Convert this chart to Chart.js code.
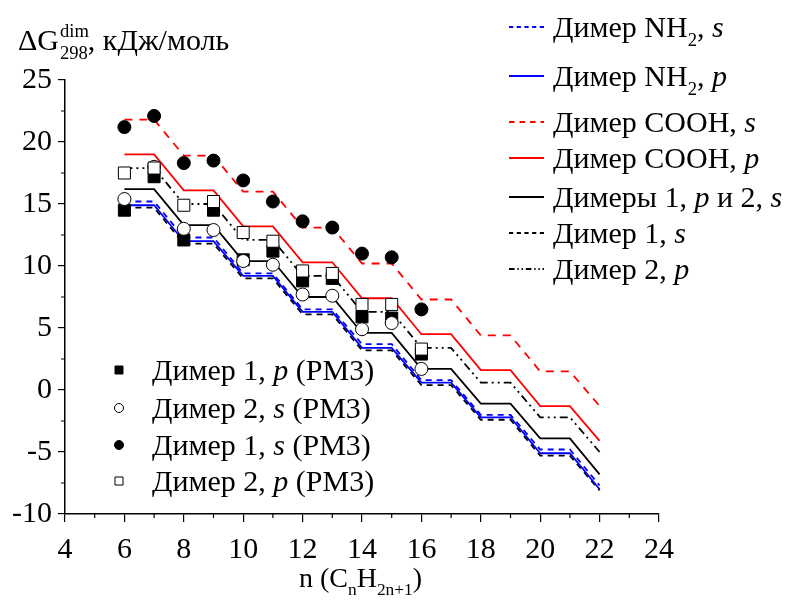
<!DOCTYPE html>
<html>
<head>
<meta charset="utf-8">
<script src="https://cdn.jsdelivr.net/npm/chart.js@4/dist/chart.umd.min.js"></script>
<style>
  html, body { margin: 0; padding: 0; background: #fff; }
  #wrap { width: 787px; height: 602px; }
</style>
</head>
<body>
<div id="wrap"><canvas id="chart" width="787" height="602"></canvas></div>
<script>
const SERIF = '"Liberation Serif", "Times New Roman", Times, serif';

// chain length n
const nLine = [6, 7, 8, 9, 10, 11, 12, 13, 14, 15, 16, 17, 18, 19, 20, 21, 22];
const nPM3 = [6, 7, 8, 9, 10, 11, 12, 13, 14, 15, 16];

// model curves, kJ/mol
const nh2S   = [15.2, 15.2, 12.3, 12.3, 9.4, 9.4, 6.5, 6.5, 3.7, 3.7, 0.8, 0.8, -2.0, -2.0, -4.8, -4.8, -7.7];
const nh2P   = [14.9, 14.9, 12.0, 12.0, 9.2, 9.2, 6.3, 6.3, 3.4, 3.4, 0.6, 0.6, -2.2, -2.2, -5.1, -5.1, -8.0];
const coohS  = [21.8, 21.8, 18.9, 18.9, 16.0, 16.0, 13.1, 13.1, 10.2, 10.2, 7.3, 7.3, 4.4, 4.4, 1.5, 1.5, -1.3];
const coohP  = [19.0, 19.0, 16.1, 16.1, 13.2, 13.2, 10.3, 10.3, 7.4, 7.4, 4.5, 4.5, 1.6, 1.6, -1.3, -1.3, -4.1];
const dim1p2s = [16.2, 16.2, 13.3, 13.3, 10.4, 10.4, 7.5, 7.5, 4.6, 4.6, 1.7, 1.7, -1.1, -1.1, -3.9, -3.9, -6.8];
const dim1S  = [14.7, 14.7, 11.8, 11.8, 9.0, 9.0, 6.1, 6.1, 3.2, 3.2, 0.4, 0.4, -2.4, -2.4, -5.3, -5.3, -8.1];
const dim2P  = [17.9, 17.9, 15.0, 15.0, 12.1, 12.1, 9.2, 9.2, 6.3, 6.3, 3.4, 3.4, 0.6, 0.6, -2.2, -2.2, -5.0];

// PM3 points
const pm3Dim1P = [14.5, 17.2, 12.1, 14.5, 10.5, 11.2, 8.8, 9.0, 5.9, 5.8, 2.9];
const pm3Dim2S = [15.4, 18.0, 13.0, 12.9, 10.4, 10.1, 7.7, 7.6, 4.9, 5.4, 1.7];
const pm3Dim1S = [21.2, 22.1, 18.3, 18.5, 16.9, 15.2, 13.6, 13.1, 11.0, 10.7, 6.5];
const pm3Dim2P = [17.5, 17.9, 14.9, 15.2, 12.7, 12.0, 9.6, 9.4, 6.9, 6.9, 3.3];

const xTicks = [4, 6, 8, 10, 12, 14, 16, 18, 20, 22, 24];
const yTicks = [-10, -5, 0, 5, 10, 15, 20, 25];

// legend captions: [text, italic, sub]
const lineLabels = [
  [['Димер NH'], ['2', 0, 1], [', '], ['s', 1]],
  [['Димер NH'], ['2', 0, 1], [', '], ['p', 1]],
  [['Димер COOH, '], ['s', 1]],
  [['Димер COOH, '], ['p', 1]],
  [['Димеры 1, '], ['p', 1], [' и 2, '], ['s', 1]],
  [['Димер 1, '], ['s', 1]],
  [['Димер 2, '], ['p', 1]]
];
const pointLabels = [
  [['Димер 1, '], ['p', 1], [' (PM3)']],
  [['Димер 2, '], ['s', 1], [' (PM3)']],
  [['Димер 1, '], ['s', 1], [' (PM3)']],
  [['Димер 2, '], ['p', 1], [' (PM3)']]
];

const pairs = (xs, ys) => ys.map((y, i) => ({ x: xs[i], y }));

function lineSet(data, color, dash, order) {
  return {
    type: 'line', data: pairs(nLine, data), borderColor: color, borderWidth: 1.8,
    borderDash: dash, pointRadius: 0, fill: false, tension: 0, order
  };
}
function pointSet(data, style, fill, radius, order) {
  return {
    type: 'scatter', data: pairs(nPM3, data), showLine: false, pointStyle: style,
    pointRadius: radius, pointBackgroundColor: fill, pointBorderColor: '#000',
    pointBorderWidth: 1, order
  };
}

const datasets = [
  lineSet(nh2S, '#0000ff', [6, 5], 13),
  lineSet(nh2P, '#0000ff', [], 12),
  lineSet(coohS, '#ff0000', [8, 7], 16),
  lineSet(coohP, '#ff0000', [], 15),
  lineSet(dim1p2s, '#000', [], 14),
  lineSet(dim1S, '#000', [6, 5], 17),
  lineSet(dim2P, '#000', [8, 4, 2, 4, 2, 4], 18),
  pointSet(pm3Dim1P, 'rect', '#000', 8.5, 4),
  pointSet(pm3Dim2S, 'circle', '#fff', 6.5, 3),
  pointSet(pm3Dim1S, 'circle', '#000', 6.5, 2),
  pointSet(pm3Dim2P, 'rect', '#fff', 8.5, 1)
];

function rich(ctx, x, y, parts, size) {
  let cx = x;
  for (const [t, it, sub, sup] of parts) {
    const fs = (sub || sup) ? size * 0.62 : size;
    ctx.font = (it ? 'italic ' : '') + fs + 'px ' + SERIF;
    const dy = sub ? size * 0.3 : sup ? -size * 0.45 : 0;
    ctx.fillText(t, cx, y + dy);
    cx += ctx.measureText(t).width;
  }
  return cx;
}

const decor = {
  id: 'decor',
  afterDraw(chart) {
    const ctx = chart.ctx;
    const xs = chart.scales.x, ys = chart.scales.y;
    ctx.save();
    ctx.strokeStyle = '#000';
    ctx.lineWidth = 1.2;
    // minor ticks
    ctx.beginPath();
    for (let v = 5; v < 24; v += 2) {
      const px = xs.getPixelForValue(v);
      ctx.moveTo(px, ys.bottom); ctx.lineTo(px, ys.bottom + 4);
    }
    for (let v = -7.5; v < 25; v += 5) {
      const py = ys.getPixelForValue(v);
      ctx.moveTo(xs.left, py); ctx.lineTo(xs.left - 4, py);
    }
    ctx.stroke();

    ctx.fillStyle = '#000';
    ctx.textBaseline = 'alphabetic';
    // axis titles
    const ex = rich(ctx, 18, 50, [['ΔG']], 30);
    rich(ctx, ex + 1, 50, [['dim', 0, 0, 1]], 30);
    const ex2 = rich(ctx, ex + 1, 50, [['298', 0, 1]], 30);
    rich(ctx, ex2, 50, [[', кДж/моль']], 30);

    const tx = 299;
    let cx = rich(ctx, tx, 587, [['n (C']], 28);
    cx = rich(ctx, cx, 587, [['n', 0, 1]], 28);
    cx = rich(ctx, cx, 587, [['H']], 28);
    cx = rich(ctx, cx, 587, [['2n+1', 0, 1]], 28);
    rich(ctx, cx, 587, [[')']], 28);

    // legend for curves
    const rowsY = [27, 76, 122, 158, 197, 233, 269];
    chart.data.datasets.slice(0, 7).forEach((ds, i) => {
      const y = rowsY[i];
      ctx.beginPath();
      ctx.strokeStyle = ds.borderColor;
      ctx.lineWidth = 1.8;
      ctx.setLineDash(ds.borderDash.length ? ds.borderDash.map(d => d * 0.7) : []);
      ctx.moveTo(509, y); ctx.lineTo(544, y);
      ctx.stroke();
      ctx.setLineDash([]);
      ctx.fillStyle = '#000';
      rich(ctx, 553, y + 10, lineLabels[i], 30);
    });

    // legend for PM3 points
    const ptY = [370, 408, 445, 481];
    chart.data.datasets.slice(7).forEach((ds, i) => {
      const y = ptY[i], x = 119;
      ctx.fillStyle = ds.pointBackgroundColor;
      ctx.strokeStyle = '#000';
      ctx.lineWidth = 1;
      ctx.beginPath();
      if (ds.pointStyle === 'rect') ctx.rect(x - 4, y - 4, 8, 8);
      else ctx.arc(x, y, 4.5, 0, Math.PI * 2);
      ctx.fill(); ctx.stroke();
      ctx.fillStyle = '#000';
      rich(ctx, 152, y + 10, pointLabels[i], 30);
    });
    ctx.restore();
  }
};

new Chart(document.getElementById('chart'), {
  type: 'scatter',
  data: { datasets },
  options: {
    responsive: false,
    animation: false,
    layout: { padding: { left: 0, top: 80, right: 128, bottom: 0 } },
    plugins: { legend: { display: false }, tooltip: { enabled: false } },
    scales: {
      x: {
        type: 'linear', min: 4, max: 24,
        afterBuildTicks: s => { s.ticks = xTicks.map(v => ({ value: v })); },
        afterFit: s => { s.height = 88; },
        grid: { drawOnChartArea: false, tickLength: 8, color: '#000', lineWidth: 1.2 },
        border: { color: '#000', width: 1.5 },
        ticks: { color: '#000', padding: 10, maxRotation: 0, font: { family: SERIF, size: 30 } }
      },
      y: {
        type: 'linear', min: -10, max: 25,
        afterBuildTicks: s => { s.ticks = yTicks.map(v => ({ value: v })); },
        afterFit: s => { s.width = 65; },
        grid: { drawOnChartArea: false, tickLength: 7, color: '#000', lineWidth: 1.2 },
        border: { color: '#000', width: 1.5 },
        ticks: { color: '#000', padding: 6, font: { family: SERIF, size: 30 } }
      }
    }
  },
  plugins: [decor]
});
</script>
</body>
</html>
